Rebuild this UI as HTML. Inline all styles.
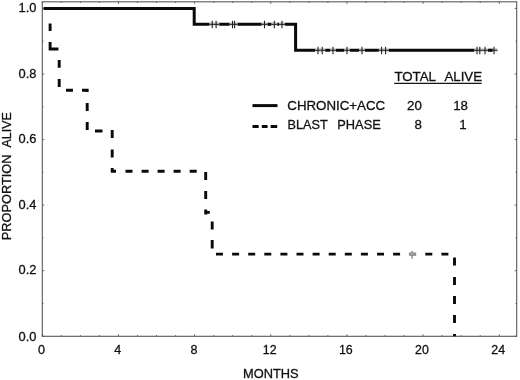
<!DOCTYPE html>
<html><head><meta charset="utf-8"><title>Survival</title>
<style>html,body{margin:0;padding:0;background:#fff}svg{display:block}text{font-family:"Liberation Sans",Arial,sans-serif;font-size:13.3px;fill:#111;stroke:#111;stroke-width:0.3px}</style>
</head><body>
<svg width="520" height="380" viewBox="0 0 520 380">
<rect width="520" height="380" fill="#fff"/>
<rect x="42.3" y="1.8" width="474.40000000000003" height="334.5" fill="none" stroke="#5a5a5a" stroke-width="1.1"/>
<path d="M42.3 336.3v-2.0M42.3 1.8v2.0M61.3 336.3v-1.2M61.3 1.8v1.2M80.4 336.3v-1.2M80.4 1.8v1.2M99.4 336.3v-1.2M99.4 1.8v1.2M118.5 336.3v-2.0M118.5 1.8v2.0M137.5 336.3v-1.2M137.5 1.8v1.2M156.5 336.3v-1.2M156.5 1.8v1.2M175.6 336.3v-1.2M175.6 1.8v1.2M194.6 336.3v-2.0M194.6 1.8v2.0M213.7 336.3v-1.2M213.7 1.8v1.2M232.7 336.3v-1.2M232.7 1.8v1.2M251.7 336.3v-1.2M251.7 1.8v1.2M270.8 336.3v-2.0M270.8 1.8v2.0M289.8 336.3v-1.2M289.8 1.8v1.2M308.9 336.3v-1.2M308.9 1.8v1.2M327.9 336.3v-1.2M327.9 1.8v1.2M346.9 336.3v-2.0M346.9 1.8v2.0M366.0 336.3v-1.2M366.0 1.8v1.2M385.0 336.3v-1.2M385.0 1.8v1.2M404.1 336.3v-1.2M404.1 1.8v1.2M423.1 336.3v-2.0M423.1 1.8v2.0M442.1 336.3v-1.2M442.1 1.8v1.2M461.2 336.3v-1.2M461.2 1.8v1.2M480.2 336.3v-1.2M480.2 1.8v1.2M499.3 336.3v-2.0M499.3 1.8v2.0M42.3 336.3h2.0M516.7 336.3h-2.0M42.3 303.5h1.2M516.7 303.5h-1.2M42.3 270.7h2.0M516.7 270.7h-2.0M42.3 237.9h1.2M516.7 237.9h-1.2M42.3 205.1h2.0M516.7 205.1h-2.0M42.3 172.3h1.2M516.7 172.3h-1.2M42.3 139.6h2.0M516.7 139.6h-2.0M42.3 106.8h1.2M516.7 106.8h-1.2M42.3 74.0h2.0M516.7 74.0h-2.0M42.3 41.2h1.2M516.7 41.2h-1.2M42.3 8.4h2.0M516.7 8.4h-2.0" stroke="#555" stroke-width="0.9" fill="none"/>
<text x="36.5" y="11.6" text-anchor="end" textLength="17.9" lengthAdjust="spacingAndGlyphs">1.0</text>
<text x="36.5" y="77.6" text-anchor="end" textLength="17.9" lengthAdjust="spacingAndGlyphs">0.8</text>
<text x="36.5" y="143.3" text-anchor="end" textLength="17.9" lengthAdjust="spacingAndGlyphs">0.6</text>
<text x="36.5" y="209.0" text-anchor="end" textLength="17.9" lengthAdjust="spacingAndGlyphs">0.4</text>
<text x="36.5" y="274.2" text-anchor="end" textLength="17.9" lengthAdjust="spacingAndGlyphs">0.2</text>
<text x="36.5" y="340.9" text-anchor="end" textLength="17.9" lengthAdjust="spacingAndGlyphs">0.0</text>
<text x="41.6" y="353.9" text-anchor="middle" textLength="7" lengthAdjust="spacingAndGlyphs">0</text>
<text x="117.8" y="353.9" text-anchor="middle" textLength="7" lengthAdjust="spacingAndGlyphs">4</text>
<text x="193.9" y="353.9" text-anchor="middle" textLength="7" lengthAdjust="spacingAndGlyphs">8</text>
<text x="269.7" y="353.9" text-anchor="middle" textLength="13.8" lengthAdjust="spacingAndGlyphs">12</text>
<text x="345.8" y="353.9" text-anchor="middle" textLength="13.8" lengthAdjust="spacingAndGlyphs">16</text>
<text x="422.0" y="353.9" text-anchor="middle" textLength="13.8" lengthAdjust="spacingAndGlyphs">20</text>
<text x="498.2" y="353.9" text-anchor="middle" textLength="13.8" lengthAdjust="spacingAndGlyphs">24</text>
<text x="270.8" y="378.2" text-anchor="middle" textLength="55.6" lengthAdjust="spacingAndGlyphs">MONTHS</text>
<text transform="translate(11.0 240.2) rotate(-90)" textLength="85.6" lengthAdjust="spacingAndGlyphs">PROPORTION</text>
<text transform="translate(11.0 147.5) rotate(-90)" textLength="35.4" lengthAdjust="spacingAndGlyphs">ALIVE</text>
<path d="M50.1 23.4V31M50.1 42V50.4M50.1 49H58.4M59.2 60V67.8M59.2 79V87M66 90.3H73M82 90.3H88.5M87.2 89V92M87.2 103V111M87.2 122V130M95 131H102.5M112.2 130V138M112.2 149.6V157.6M112.2 168V172.6M111 171.3H116M125.5 171.3H132.5M141.6 171.3H148.6M157.6 171.3H164.6M173.6 171.3H180.6M189.7 171.3H196.7M205.7 172V180M205.7 191V199M205.7 209.6V214.4M204.3 212.4H209.8M212.2 221.6V229.6M212.2 240V248.6M216.0 254.1H223.0M232.1 254.1H239.1M248.2 254.1H255.2M264.3 254.1H271.3M280.4 254.1H287.4M296.5 254.1H303.5M312.6 254.1H319.6M328.7 254.1H335.7M344.8 254.1H351.8M360.9 254.1H367.9M377.0 254.1H384.0M393.1 254.1H400.1M425.3 254.1H432.3M441.4 254.1H448.4M454.5 257.6V265.6M454.5 276.9V284.9M454.5 296V304M454.5 315.1V323.1M454.5 334V336.3" stroke="#0a0a0a" stroke-width="2.9" fill="none"/>
<path d="M43.6 8.45H194.2V24.2H295.6V50.15H497" stroke="#0a0a0a" stroke-width="3" fill="none" stroke-linejoin="miter"/>
<rect x="209.3" y="22.2" width="10.0" height="4" fill="#dcdcdc"/>
<path d="M209.3 24.3H219.3" stroke="#1c1c1c" stroke-width="1.1"/>
<rect x="229.5" y="22.2" width="8.1" height="4" fill="#dcdcdc"/>
<path d="M229.5 24.3H237.6" stroke="#1c1c1c" stroke-width="1.1"/>
<rect x="261.5" y="22.2" width="6.0" height="4" fill="#dcdcdc"/>
<path d="M261.5 24.3H267.5" stroke="#1c1c1c" stroke-width="1.1"/>
<rect x="271.3" y="22.2" width="6.0" height="4" fill="#dcdcdc"/>
<path d="M271.3 24.3H277.3" stroke="#1c1c1c" stroke-width="1.1"/>
<rect x="279" y="22.2" width="6.0" height="4" fill="#dcdcdc"/>
<path d="M279 24.3H285" stroke="#1c1c1c" stroke-width="1.1"/>
<rect x="315" y="48.15" width="10.3" height="4" fill="#dcdcdc"/>
<path d="M315 50.25H325.3" stroke="#1c1c1c" stroke-width="1.1"/>
<rect x="330" y="48.15" width="6.0" height="4" fill="#dcdcdc"/>
<path d="M330 50.25H336" stroke="#1c1c1c" stroke-width="1.1"/>
<rect x="344.2" y="48.15" width="5.8" height="4" fill="#dcdcdc"/>
<path d="M344.2 50.25H350" stroke="#1c1c1c" stroke-width="1.1"/>
<rect x="359" y="48.15" width="6.0" height="4" fill="#dcdcdc"/>
<path d="M359 50.25H365" stroke="#1c1c1c" stroke-width="1.1"/>
<rect x="378.8" y="48.15" width="10.0" height="4" fill="#dcdcdc"/>
<path d="M378.8 50.25H388.8" stroke="#1c1c1c" stroke-width="1.1"/>
<rect x="474.3" y="48.15" width="13.7" height="4" fill="#dcdcdc"/>
<path d="M474.3 50.25H488" stroke="#1c1c1c" stroke-width="1.1"/>
<rect x="492.5" y="48.15" width="5.0" height="4" fill="#dcdcdc"/>
<path d="M492.5 50.25H497.5" stroke="#1c1c1c" stroke-width="1.1"/>
<path d="M212.2 20.8V28.2M216.1 20.8V28.2M232.5 20.8V28.2M234.6 20.8V28.2M264.5 20.8V28.2M274.3 20.8V28.2M282 20.8V28.2M318 46.75V54.15M322.2 46.75V54.15M333 46.75V54.15M347 46.75V54.15M362 46.75V54.15M381.6 46.75V54.15M385.6 46.75V54.15M477 46.75V54.15M479.8 46.75V54.15M485 46.75V54.15M494 46.75V54.15" stroke="#1c1c1c" stroke-width="1.05" fill="none"/>
<rect x="489" y="48.85" width="3.5" height="2.6" fill="#111"/>
<rect x="408.9" y="252.5" width="7.3" height="3.3" fill="#8a8a8a"/>
<path d="M412.1 250.9V258.6" stroke="#555" stroke-width="1" fill="none"/>
<rect x="411" y="253.4" width="2.2" height="1.4" fill="#c8c8c8"/>
<path d="M252.5 105.6H277.5" stroke="#0a0a0a" stroke-width="3"/>
<path d="M252.5 126.4H258.7M261.8 126.4H267.6M270.6 126.4H277.2" stroke="#0a0a0a" stroke-width="3"/>
<text x="287.3" y="110.1">CHRONIC+ACC</text>
<text x="287.6" y="128.9" textLength="40.1" lengthAdjust="spacingAndGlyphs">BLAST</text>
<text x="337.3" y="128.9" textLength="43.5" lengthAdjust="spacingAndGlyphs">PHASE</text>
<text x="394.4" y="81.3">TOTAL</text>
<text x="444.4" y="81.3">ALIVE</text>
<path d="M394.2 83.4H481.6" stroke="#151515" stroke-width="1.3"/>
<text x="414.4" y="110.1" text-anchor="middle">20</text>
<text x="460.6" y="110.1" text-anchor="middle">18</text>
<text x="418.1" y="128.9" text-anchor="middle">8</text>
<text x="462.9" y="128.9" text-anchor="middle">1</text>
</svg>
</body></html>
